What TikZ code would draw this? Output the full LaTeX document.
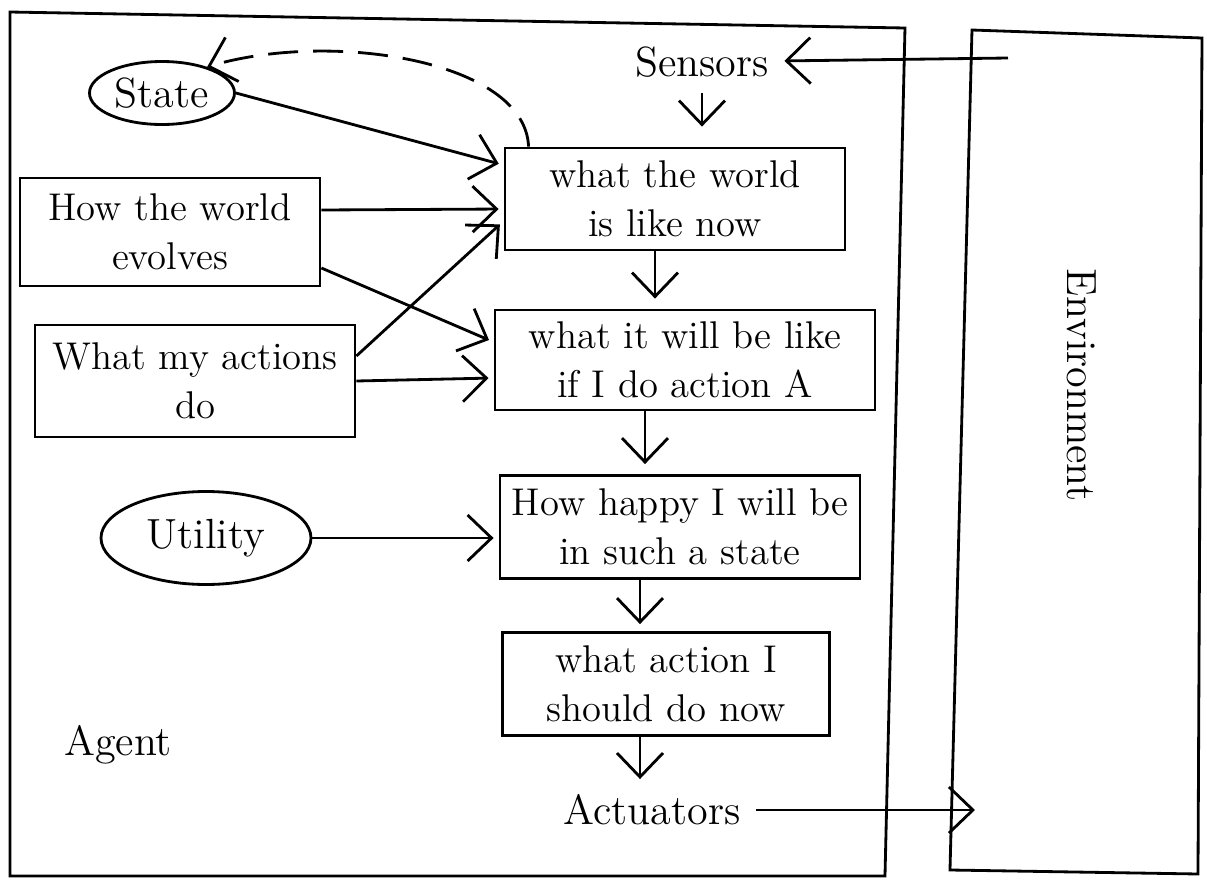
\documentclass[tikz,border=0pt]{standalone}
\usetikzlibrary{shapes.geometric,arrows.meta}

\tikzstyle{model box}=[draw,thick,rectangle,align=center,
    inner sep=2pt,font=\fontsize{11pt}{14pt}\selectfont]
\tikzstyle{belief}=[draw,thick,ellipse,inner sep=0pt,font=\large]
\tikzstyle{tag}=[inner sep=1.5mm,font=\large]
\tikzstyle{flow}=[thick]
\tikzstyle{frame}=[thick]
\newcommand{\modelbox}[5]{
    \node[model box,minimum width=#3,minimum height=#4] at (#1) (#2) {#5};
}
\newcommand{\flowarrow}[3][]{
    \draw[->,>={Straight Barb[length=2.4mm,width=4.6mm]},flow,#1] (#2)--(#3);}

\begin{document}
\begin{tikzpicture}[x=0.1mm,y=-0.1mm]
    \useasboundingbox (0,0) rectangle (1207,888);
    %
    \draw[frame] (10,12) -- (905,28) -- (885,876) -- (10,876) -- cycle;
    \draw[frame] (972,30) -- (1202,38) -- (1198,874) -- (950,870) -- cycle;
    \node[tag] at (118,745) (agent) {Agent};
    \node[tag,rotate=-90] at (1082,385) (env) {Environment};
    %
    \node[belief,minimum width=14.5mm,minimum height=6.3mm] at (162,93) (state) {State};
    \node[belief,minimum width=21mm,minimum height=9.3mm] at (206,538) (utility) {Utility};
    \modelbox{170,232}{evolves}{30mm}{10.8mm}{How the world\\ evolves}
    \modelbox{195,381}{actions}{32mm}{11.2mm}{What my actions\\ do}
    %
    \node[tag] at (702,62) (sensors) {Sensors};
    \modelbox{675,199}{now}{34mm}{10.2mm}{what the world\\ is like now}
    \modelbox{685,360}{ifA}{38mm}{10mm}{what it will be like\\ if I do action A}
    \modelbox{680,527}{happy}{36mm}{10.3mm}{How happy I will be\\ in such a state}
    \modelbox{666,684}{todo}{32.7mm}{10.3mm}{what action I\\ should do now}
    \node[tag] at (652,810) (actuators) {Actuators};
    %
    \coordinate (envin) at (1008,58);
    \coordinate (envout) at (975,810);
    \flowarrow{envin}{sensors}
    \flowarrow[shorten >=2mm]{sensors}{sensors |- now.north}
    \flowarrow[shorten >=1mm]{[xshift=-2mm]now.south}{[xshift=-2mm]now.south |- ifA.north}
    \flowarrow[shorten >=1mm]{[xshift=-4mm]ifA.south}{[xshift=-4mm]ifA.south |- happy.north}
    \flowarrow[shorten >=0.7mm]{[xshift=-4mm]happy.south}{[xshift=-4mm]happy.south |- todo.north}
    \flowarrow{[xshift=-2.6mm]todo.south}{[xshift=-2.6mm]todo.south |- actuators.north}
    \flowarrow{actuators}{envout}
    %
    \flowarrow[shorten >=0.5mm]{state.east}{[yshift=3.4mm]now.west}
    \flowarrow[shorten >=0.5mm]{[yshift=2.2mm]evolves.east}{[yshift=-1mm]now.west}
    \flowarrow[shorten >=0.5mm]{[yshift=-3.6mm]evolves.east}{[yshift=1.8mm]ifA.west}
    \flowarrow[shorten >=0.5mm]{[yshift=2.5mm]actions.east}{[yshift=-2.2mm]now.west}
    \flowarrow[shorten >=0.5mm]{actions.east}{[yshift=-1.8mm]ifA.west}
    \flowarrow[shorten >=0.5mm]{utility}{utility -| happy.west}
    %
    \draw[->,>={Straight Barb[length=2.4mm,width=4.6mm]},flow,dash pattern=on 3mm off 1.5mm]
        ([xshift=2.5mm]now.north west) .. controls (525,60) and (330,30) .. (state.30);
\end{tikzpicture}
\end{document}
